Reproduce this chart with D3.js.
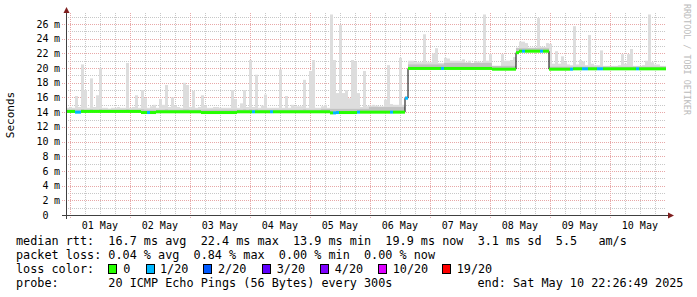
<!DOCTYPE html>
<html>
<head>
<meta charset="utf-8">
<script src="https://cdn.jsdelivr.net/npm/d3@7"></script>
<style>
body { margin: 0; background: #fff; }
svg { display: block; font-family: "DejaVu Sans Mono", monospace; }
</style>
</head>
<body>
<svg id="chart" width="697" height="297"></svg>
<script>
// one sample every 72 minutes, 200 samples = 10 days
const startTime = Date.UTC(2025, 3, 30, 22, 26, 49);
const endTime = Date.UTC(2025, 4, 10, 22, 26, 49);
const sampleMs = 72 * 60 * 1000;

// median rtt (ms)
const median = [
  14.1,14.1,14.1,14.0,14.0,14.1,14.1,14.1,14.1,14.1, 14.1,14.1,14.1,14.1,14.1,14.1,14.1,14.1,14.1,14.1,
  14.1,14.1,14.1,14.1,14.1,13.95,13.95,13.95,13.95,13.95, 14.05,14.05,14.05,14.05,14.05,14.05,14.05,14.05,14.05,14.05,
  14.05,14.05,14.05,14.05,14.05,13.95,13.95,13.95,13.95,13.95, 13.95,13.95,13.95,13.95,13.95,13.95,13.95,14.05,14.05,14.05,
  14.05,14.05,14.05,14.05,14.05,14.05,14.05,14.05,14.05,14.05, 14.05,14.05,14.05,14.05,14.05,14.05,14.05,14.05,14.05,14.05,
  14.05,14.05,14.05,14.05,14.05,14.05,14.05,14.05,13.9,13.9, 13.95,13.95,13.95,13.95,13.95,13.95,13.95,14.0,14.0,14.0,
  14.0,14.0,14.0,14.0,14.0,14.0,14.0,14.0,14.0,14.0, 14.0,14.0,14.0,15.9,19.95,19.95,19.95,19.95,19.95,19.95,
  19.95,19.95,19.95,19.95,19.95,19.95,19.95,19.95,19.95,19.95, 19.95,19.95,19.95,19.95,19.95,19.95,19.95,19.95,19.95,19.95,
  19.95,19.95,19.85,19.85,19.85,19.85,19.85,19.85,19.85,19.85, 22.1,22.3,22.3,22.3,22.3,22.3,22.3,22.3,22.3,22.3,
  22.3,19.85,19.85,19.85,19.85,19.85,19.85,19.85,19.85,19.9, 19.9,19.9,19.9,19.9,19.9,19.9,19.9,19.9,19.9,19.9,
  19.9,19.9,19.9,19.9,19.9,19.9,19.9,19.9,19.9,19.9, 19.9,19.9,19.9,19.9,19.9,19.9,19.9,19.9,19.9,19.9
];

// highest ping in each sample (ms)
const smokeTop = [
  14.6,14.7,14.6,16.2,14.7,20.5,17.0,14.6,18.6,14.7, 16.3,20.0,14.6,14.6,14.5,14.6,14.6,14.7,14.6,14.6,
  20.7,14.6,14.7,16.3,14.6,17.0,15.9,14.6,14.8,15.0, 14.6,15.8,15.0,17.7,14.7,16.0,14.9,14.7,14.6,18.0,
  17.7,14.7,16.9,14.6,14.7,16.3,14.9,14.6,14.6,14.7, 14.7,14.6,14.6,14.6,14.6,17.0,15.8,14.6,15.2,17.0,
  14.7,21.1,14.7,19.1,14.6,14.9,16.4,14.6,14.6,14.6, 14.6,19.8,14.6,16.2,14.6,15.0,14.8,14.8,14.8,18.4,
  14.6,19.6,21.1,14.6,14.6,14.8,15.0,14.6,27.3,21.1, 16.6,25.9,16.6,17.0,15.9,21.1,20.9,16.6,14.7,19.6,
  14.8,14.9,15.0,14.9,14.8,14.8,15.7,20.4,15.1,15.0, 15.0,21.4,15.0,16.2,21.0,21.0,20.8,20.8,20.8,24.6,
  20.8,20.8,22.0,22.7,20.7,20.7,21.4,21.3,21.0,21.0, 21.0,21.0,21.2,20.8,21.0,20.6,20.9,20.9,20.8,27.3,
  21.0,21.9,20.3,20.3,20.3,21.9,21.0,21.0,21.1,21.5, 22.8,23.6,23.6,23.4,22.8,22.8,22.8,26.8,22.9,22.9,
  23.4,23.3,20.6,22.3,20.6,21.6,20.8,20.5,20.4,25.7, 20.5,21.1,20.9,20.4,24.5,20.6,20.4,20.4,22.4,20.3,
  20.3,20.3,20.3,20.3,20.4,21.9,20.6,21.9,22.6,20.3, 20.3,20.3,20.4,21.0,27.3,20.8,20.5,20.5,20.3,20.3
];

// upper edge of the dense part of the smoke (ms)
const smokeDense = [
  14.35,14.35,14.35,14.35,14.35,14.4,14.35,14.35,14.4,14.35, 14.35,14.4,14.35,14.35,14.35,14.35,14.35,14.35,14.35,14.35,
  14.4,14.35,14.35,14.35,14.35,14.4,14.35,14.35,14.35,14.35, 14.35,14.35,14.35,14.4,14.35,14.35,14.35,14.35,14.35,14.4,
  14.4,14.35,14.35,14.35,14.35,14.35,14.35,14.35,14.35,14.35, 14.35,14.35,14.35,14.35,14.35,14.35,14.35,14.35,14.35,14.4,
  14.35,14.4,14.35,14.4,14.35,14.35,14.35,14.35,14.35,14.35, 14.35,14.35,14.35,14.35,14.35,14.35,14.35,14.35,14.35,14.4,
  14.35,14.35,14.35,14.35,14.35,14.45,14.45,14.45,14.45,14.45, 14.45,14.45,14.45,14.45,14.45,14.45,14.45,14.45,14.45,14.45,
  14.45,14.7,14.7,14.7,14.7,14.7,14.7,14.7,14.7,14.7, 14.7,14.7,14.7,16.0,20.5,20.5,20.5,20.5,20.5,20.5,
  20.5,20.5,20.5,20.5,20.5,20.5,20.7,20.7,20.7,20.7, 20.7,20.7,20.7,20.7,20.7,20.7,20.7,20.7,20.7,20.7,
  20.7,20.7,20.3,20.3,20.3,20.3,20.3,20.3,20.3,20.3, 22.7,22.7,22.7,22.7,22.7,22.7,22.7,22.7,22.7,22.7,
  22.7,20.2,20.2,20.2,20.2,20.2,20.2,20.2,20.2,20.2, 20.2,20.2,20.2,20.2,20.2,20.2,20.2,20.2,20.2,20.2,
  20.2,20.2,20.2,20.2,20.2,20.2,20.2,20.2,20.2,20.2, 20.2,20.2,20.2,20.2,20.2,20.2,20.2,20.2,20.2,20.2
];

// lost pings out of 20
const lossPings = [
  0,0,0,1,1,0,0,0,0,0, 0,0,0,0,0,0,0,0,0,0,
  0,0,0,0,0,0,0,1,0,0, 0,0,0,0,0,0,0,0,0,0,
  0,0,0,0,0,0,0,0,0,0, 0,0,0,0,0,0,0,0,0,0,
  0,0,1,0,0,0,0,0,1,0, 0,0,0,0,0,0,0,0,0,0,
  0,0,0,0,0,0,0,0,0,1, 1,0,0,0,0,0,0,1,0,0,
  0,0,0,0,0,0,0,0,1,0, 0,0,0,1,0,0,0,0,0,0,
  0,0,0,0,0,1,0,0,0,0, 0,0,0,0,0,0,0,0,0,0,
  0,0,0,0,0,0,0,0,0,0, 0,0,1,0,0,0,0,0,1,0,
  0,0,0,0,0,0,0,0,1,0, 0,0,1,1,0,0,0,1,1,0,
  0,0,0,0,0,0,0,0,0,0, 1,0,0,0,0,0,0,0,0,0
];

const yTicks = [0, 2, 4, 6, 8, 10, 12, 14, 16, 18, 20, 22, 24, 26];
const lossLevels = [0, 1, 2, 3, 4, 10, 19];
const lossLabels = ['0', '1/20', '2/20', '3/20', '4/20', '10/20', '19/20'];
const lossColors = ['#26ff00', '#00b8ff', '#0059ff', '#5e00ff', '#7e00ff', '#dd00ff', '#ff0000'];

const legendLines = [
  'median rtt:  16.7 ms avg  22.4 ms max  13.9 ms min  19.9 ms now  3.1 ms sd  5.5   am/s',
  'packet loss: 0.04 % avg  0.84 % max  0.00 % min  0.00 % now',
  'loss color:',
  'probe:       20 ICMP Echo Pings (56 Bytes) every 300s'
];
const legendEnd = 'end: Sat May 10 22:26:49 2025';

const svg = d3.select('#chart');
const plotLeft = 66, plotRight = 666, plotTop = 13, plotBottom = 215;

const x = d3.scaleUtc().domain([startTime, endTime]).range([plotLeft, plotRight]);
const y = d3.scaleLinear().domain([0, 27.5]).range([plotBottom, plotTop]);

const samples = median.map((m, i) => ({
  t0: new Date(startTime + i * sampleMs),
  t1: new Date(startTime + (i + 1) * sampleMs),
  med: m, hi: smokeTop[i], dense: smokeDense[i], loss: lossPings[i]
}));

const lossColor = d3.scaleThreshold()
  .domain(lossLevels.slice(1))
  .range(lossColors);

// grid
const grid = svg.append('g');
for (let v = 1; v <= 27; v += 2) {
  grid.append('line')
    .attr('x1', plotLeft).attr('x2', plotRight)
    .attr('y1', Math.round(y(v)) + 0.5).attr('y2', Math.round(y(v)) + 0.5)
    .attr('stroke', '#c8c8c8').attr('stroke-dasharray', '1,1');
}
d3.utcHour.every(6).range(new Date(startTime), new Date(endTime))
  .filter(d => d.getUTCHours() !== 0)
  .forEach(d => {
    const xx = Math.round(x(d)) + 0.5;
    grid.append('line')
      .attr('x1', xx).attr('x2', xx).attr('y1', plotTop).attr('y2', plotBottom)
      .attr('stroke', '#c8c8c8').attr('stroke-dasharray', '1,1');
  });
yTicks.filter(v => v > 0).forEach(v => {
  const yy = Math.round(y(v)) + 0.5;
  grid.append('line')
    .attr('x1', plotLeft - 4).attr('x2', plotRight).attr('y1', yy).attr('y2', yy)
    .attr('stroke', '#e8a8a8').attr('stroke-dasharray', '1,1');
});
d3.utcDay.range(new Date(startTime), new Date(endTime)).forEach(d => {
  const xx = Math.round(x(d)) + 0.5;
  grid.append('line')
    .attr('x1', xx).attr('x2', xx).attr('y1', plotTop).attr('y2', plotBottom + 3)
    .attr('stroke', '#e8a8a8').attr('stroke-dasharray', '1,1');
});

// smoke
const smoke = svg.append('g');
smoke.selectAll('rect.hi')
  .data(samples)
  .join('rect')
  .attr('class', 'hi')
  .attr('x', d => x(d.t0))
  .attr('width', d => x(d.t1) - x(d.t0))
  .attr('y', d => y(d.hi))
  .attr('height', d => y(d.med) - y(d.hi))
  .attr('fill', '#dddddd');
smoke.selectAll('rect.dense')
  .data(samples)
  .join('rect')
  .attr('class', 'dense')
  .attr('x', d => x(d.t0))
  .attr('width', d => x(d.t1) - x(d.t0))
  .attr('y', d => y(d.dense))
  .attr('height', d => y(d.med) - y(d.dense))
  .attr('fill', '#c2c2c2');

// median: thin black step line, then loss-coloured band
const medLine = d3.line()
  .x(d => x(d.t))
  .y(d => y(d.v))
  .curve(d3.curveStepAfter);
const linePts = samples.map(d => ({ t: d.t0, v: d.med }));
linePts.push({ t: new Date(endTime), v: median[median.length - 1] });
svg.append('path')
  .attr('d', medLine(linePts))
  .attr('fill', 'none')
  .attr('stroke', '#000')
  .attr('stroke-width', 1);

svg.append('g').selectAll('rect')
  .data(samples)
  .join('rect')
  .attr('x', d => x(d.t0))
  .attr('width', d => x(d.t1) - x(d.t0))
  .attr('y', d => y(d.med) - 1.5)
  .attr('height', 3)
  .attr('fill', d => lossColor(d.loss));

// axes
const axisColor = '#404040';
svg.append('line')
  .attr('x1', plotLeft + 0.5).attr('x2', plotLeft + 0.5).attr('y1', plotBottom + 4).attr('y2', 10)
  .attr('stroke', axisColor);
svg.append('line')
  .attr('x1', plotLeft - 4).attr('x2', 670).attr('y1', plotBottom + 0.5).attr('y2', plotBottom + 0.5)
  .attr('stroke', axisColor);
svg.append('path')
  .attr('d', `M${plotLeft - 2.5},13 L${plotLeft + 0.5},7 L${plotLeft + 3.5},13 Z`)
  .attr('fill', '#7f1f1f');
svg.append('path')
  .attr('d', `M668,${plotBottom - 2.5} L674,${plotBottom + 0.5} L668,${plotBottom + 3.5} Z`)
  .attr('fill', '#7f1f1f');

// y tick labels
const yLab = svg.append('g').attr('font-size', '10px').attr('fill', '#000');
yTicks.forEach(v => {
  yLab.append('text')
    .attr('x', 48.5).attr('y', y(v) + 3.6)
    .attr('text-anchor', 'end')
    .text(v);
  if (v > 0) {
    yLab.append('text')
      .attr('x', 54).attr('y', y(v) + 3.6)
      .text('m');
  }
});

// x tick labels at noon
const xLab = svg.append('g').attr('font-size', '10px').attr('fill', '#000');
const fmt = d3.utcFormat('%d %b');
d3.utcDay.range(new Date(startTime), new Date(endTime)).forEach(d => {
  const noon = d3.utcHour.offset(d, 12);
  if (noon > endTime) return;
  xLab.append('text')
    .attr('x', x(noon)).attr('y', 228.5)
    .attr('text-anchor', 'middle')
    .text(fmt(noon));
});

// titles
svg.append('text')
  .attr('transform', 'translate(14,115) rotate(-90)')
  .attr('text-anchor', 'middle')
  .attr('font-size', '11px')
  .text('Seconds');
svg.append('text')
  .attr('transform', 'translate(684,4) rotate(90)')
  .attr('font-size', '8.4px')
  .attr('fill', '#bbbbbb')
  .text('RRDTOOL / TOBI OETIKER');

// legend
const leg = svg.append('g').attr('font-size', '11.8px').attr('fill', '#000');
const rowY = [245, 259, 273, 287];
legendLines.forEach((s, i) => {
  leg.append('text')
    .attr('x', 16).attr('y', rowY[i])
    .attr('xml:space', 'preserve')
    .style('white-space', 'pre')
    .text(s);
});
leg.append('text')
  .attr('x', 477.5).attr('y', rowY[3])
  .text(legendEnd);
const boxX = [108, 146, 203, 262, 320, 378, 442];
const labX = [123.3, 160, 218, 276.7, 334.7, 392.7, 456.7];
lossLabels.forEach((s, i) => {
  leg.append('rect')
    .attr('x', boxX[i] + 0.5).attr('y', 264.5)
    .attr('width', 8).attr('height', 9)
    .attr('fill', lossColors[i]).attr('stroke', '#000');
  leg.append('text').attr('x', labX[i]).attr('y', rowY[2]).text(s);
});
</script>
</body>
</html>
